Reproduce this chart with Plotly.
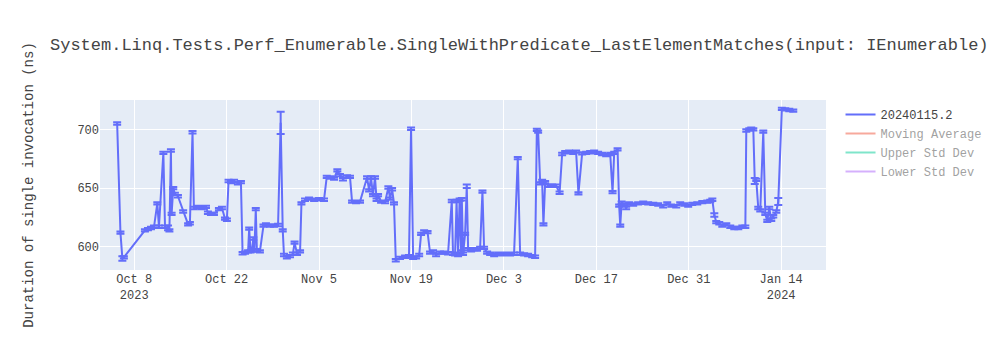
import pandas as pd
import plotly.graph_objects as go

# Benchmark run timestamps
dates = [
    "2023-10-05 10:00", "2023-10-05 22:00", "2023-10-06 05:00", "2023-10-06 10:30",
    "2023-10-09 15:00", "2023-10-10 02:00", "2023-10-10 13:00", "2023-10-11 00:00",
    "2023-10-11 12:00", "2023-10-11 18:00", "2023-10-12 10:00", "2023-10-12 16:00",
    "2023-10-13 03:00", "2023-10-13 08:00", "2023-10-13 13:30", "2023-10-13 16:00",
    "2023-10-13 22:00", "2023-10-14 04:00", "2023-10-14 15:00", "2023-10-15 10:00",
    "2023-10-16 04:00", "2023-10-16 10:30", "2023-10-16 20:00", "2023-10-17 01:00",
    "2023-10-17 16:00", "2023-10-18 06:00", "2023-10-18 21:00", "2023-10-19 04:00",
    "2023-10-19 15:00", "2023-10-20 02:00", "2023-10-20 20:00", "2023-10-21 07:00",
    "2023-10-21 18:00", "2023-10-22 01:00", "2023-10-22 07:00", "2023-10-22 16:00",
    "2023-10-23 03:00", "2023-10-23 17:00", "2023-10-24 04:00", "2023-10-24 10:00",
    "2023-10-24 19:00", "2023-10-25 06:00", "2023-10-25 10:00", "2023-10-25 15:00",
    "2023-10-25 20:00", "2023-10-26 01:00", "2023-10-26 05:00", "2023-10-26 10:00",
    "2023-10-26 14:00", "2023-10-27 01:00", "2023-10-27 14:00", "2023-10-27 23:00",
    "2023-10-28 14:00", "2023-10-29 04:00", "2023-10-29 19:00", "2023-10-30 04:30",
    "2023-10-30 12:00", "2023-10-30 16:30", "2023-10-31 03:00", "2023-10-31 14:30",
    "2023-11-01 01:00", "2023-11-01 07:00", "2023-11-01 16:00", "2023-11-02 03:00",
    "2023-11-02 08:00", "2023-11-02 21:00", "2023-11-03 11:30", "2023-11-04 06:00",
    "2023-11-05 00:00", "2023-11-05 18:00", "2023-11-06 04:00", "2023-11-06 16:00",
    "2023-11-07 06:30", "2023-11-07 18:30", "2023-11-08 04:00", "2023-11-08 15:00",
    "2023-11-09 06:00", "2023-11-09 16:30", "2023-11-10 00:00", "2023-11-10 14:30",
    "2023-11-11 05:00", "2023-11-12 06:30", "2023-11-12 14:00", "2023-11-12 21:00",
    "2023-11-13 04:00", "2023-11-13 11:30", "2023-11-13 17:00", "2023-11-13 22:30",
    "2023-11-14 09:30", "2023-11-15 00:00", "2023-11-15 12:00", "2023-11-15 18:00",
    "2023-11-16 01:30", "2023-11-16 08:30", "2023-11-16 15:00", "2023-11-17 06:30",
    "2023-11-18 00:45", "2023-11-18 15:00", "2023-11-18 22:30", "2023-11-19 06:00",
    "2023-11-19 17:00", "2023-11-20 04:00", "2023-11-20 11:00", "2023-11-20 22:00",
    "2023-11-21 10:30", "2023-11-21 19:30", "2023-11-22 06:30", "2023-11-22 17:30",
    "2023-11-23 08:00", "2023-11-23 22:30", "2023-11-24 13:00", "2023-11-25 02:30",
    "2023-11-25 07:00", "2023-11-25 14:30", "2023-11-25 20:00", "2023-11-26 01:30",
    "2023-11-26 07:00", "2023-11-26 12:30", "2023-11-26 15:00", "2023-11-26 19:30",
    "2023-11-27 03:00", "2023-11-27 09:00", "2023-11-27 14:00", "2023-11-28 00:45",
    "2023-11-28 12:00", "2023-11-28 22:30", "2023-11-29 09:30", "2023-11-29 18:00",
    "2023-11-30 00:00", "2023-11-30 11:00", "2023-11-30 22:00", "2023-12-01 12:30",
    "2023-12-02 03:00", "2023-12-02 17:30", "2023-12-03 08:00", "2023-12-03 22:30",
    "2023-12-04 13:00", "2023-12-05 02:30", "2023-12-05 11:00", "2023-12-06 01:30",
    "2023-12-06 16:00", "2023-12-07 06:45", "2023-12-07 17:30", "2023-12-07 23:45",
    "2023-12-08 04:30", "2023-12-08 12:00", "2023-12-08 19:00", "2023-12-08 23:45",
    "2023-12-09 06:00", "2023-12-09 17:00", "2023-12-10 07:30", "2023-12-10 22:00",
    "2023-12-11 10:30", "2023-12-11 19:45", "2023-12-12 06:45", "2023-12-12 21:00",
    "2023-12-13 11:45", "2023-12-13 22:30", "2023-12-14 07:00", "2023-12-14 20:30",
    "2023-12-15 11:00", "2023-12-16 01:30", "2023-12-16 16:00", "2023-12-17 06:30",
    "2023-12-17 21:00", "2023-12-18 11:45", "2023-12-19 02:30", "2023-12-19 11:00",
    "2023-12-19 17:00", "2023-12-20 05:15", "2023-12-20 11:00", "2023-12-20 15:00",
    "2023-12-20 20:00", "2023-12-21 05:15", "2023-12-21 12:30", "2023-12-21 23:30",
    "2023-12-22 14:00", "2023-12-23 08:00", "2023-12-24 02:30", "2023-12-24 20:30",
    "2023-12-25 15:00", "2023-12-26 09:00", "2023-12-27 03:00", "2023-12-27 17:45",
    "2023-12-28 08:30", "2023-12-29 02:30", "2023-12-29 17:00", "2023-12-30 07:45",
    "2023-12-30 22:00", "2023-12-31 12:45", "2024-01-01 07:00", "2024-01-02 01:15",
    "2024-01-02 19:30", "2024-01-03 06:15", "2024-01-03 13:45", "2024-01-03 21:00",
    "2024-01-04 04:00", "2024-01-04 15:00", "2024-01-05 02:00", "2024-01-05 16:30",
    "2024-01-06 07:00", "2024-01-06 21:30", "2024-01-07 12:15", "2024-01-08 02:45",
    "2024-01-08 13:45", "2024-01-08 17:15", "2024-01-09 04:00", "2024-01-09 11:15",
    "2024-01-09 18:45", "2024-01-10 00:00", "2024-01-10 05:30", "2024-01-10 12:45",
    "2024-01-10 20:00", "2024-01-11 07:00", "2024-01-11 14:15", "2024-01-11 21:30",
    "2024-01-12 04:45", "2024-01-12 12:00", "2024-01-12 19:15", "2024-01-13 06:15",
    "2024-01-13 13:30", "2024-01-14 02:30", "2024-01-14 15:00", "2024-01-15 05:30",
    "2024-01-15 20:00",
]

# Mean duration per run (ns)
durations = [
    705, 612, 590, 591,
    614, 615, 616, 617,
    637, 617, 680, 617,
    616, 614, 682, 628,
    650, 645, 643, 630,
    619, 620, 697.5, 633,
    634, 633, 634, 629,
    628, 628, 632, 633,
    624, 623, 656, 655,
    656, 654, 655, 594.5,
    595, 596, 615.5, 596,
    597, 607, 597, 632,
    597, 596, 618, 619,
    618, 618, 618.5, 705.5,
    614, 593, 591, 592,
    594, 603.5, 594, 596,
    637, 640, 641, 640,
    640.5, 640, 659.5, 659,
    658, 665, 661, 657.5,
    660, 659.5, 638.5, 638,
    638.5, 659, 648, 659,
    644, 659, 640, 644,
    638.5, 638, 650.5, 641,
    649, 637, 588.5, 590.5,
    591.5, 592, 700.5, 590.5,
    591, 593, 611, 613,
    612.5, 595, 596, 593,
    595, 595, 594.5, 639,
    594, 593.5, 639, 593,
    640, 596, 640.5, 594,
    611, 651.5, 598, 597,
    598, 597.5, 599, 647,
    599, 595, 594, 593,
    594, 593.5, 594, 593.5,
    594, 675.5, 594, 593.5,
    593, 592, 591.5, 699.5,
    698, 654, 656, 619,
    655, 652, 652, 652,
    646, 679, 680.5, 681,
    680, 681, 645.5, 679.5,
    680, 680.5, 681, 680,
    679, 678, 679, 646.5,
    680, 683, 635, 618,
    637.5, 636, 633, 637,
    636, 637, 637.5, 637,
    636.5, 636, 634.5, 637,
    635, 634.5, 637, 636,
    635, 636.5, 637, 638,
    638.5, 639, 640, 627,
    621, 620, 618, 619,
    617, 616, 616, 617,
    617, 699, 700, 700.5,
    700, 656, 657, 633,
    631, 698, 628, 622,
    633, 623, 626, 630,
    638.5, 717.5, 717, 716.5,
    716,
]

# Half-width of the error bar for each run (ns)
errors = [1] * len(durations)
errors[2] = 2
errors[12] = 2
errors[55] = 9.5
errors[121] = 1.5
errors[195] = 1.5
errors[209] = 2.5
errors[220] = 3

title = "System.Linq.Tests.Perf_Enumerable.SingleWithPredicate_LastElementMatches(input: IEnumerable)"
series_name = "20240115.2"

series = pd.Series(durations)
window = 10
moving_avg = series.rolling(window, min_periods=1).mean()
moving_std = series.rolling(window, min_periods=1).std().fillna(0)
upper = moving_avg + 2 * moving_std
lower = moving_avg - 2 * moving_std

fig = go.Figure()
fig.add_trace(go.Scatter(
    x=dates, y=durations, mode="lines", name=series_name,
    line=dict(color="#636efa", width=2),
    error_y=dict(type="data", array=errors, visible=True, color="#636efa", thickness=2, width=4),
))
fig.add_trace(go.Scatter(x=dates, y=moving_avg, mode="lines", name="Moving Average",
                         line=dict(color="#EF553B"), visible="legendonly"))
fig.add_trace(go.Scatter(x=dates, y=upper, mode="lines", name="Upper Std Dev",
                         line=dict(color="#00cc96"), visible="legendonly"))
fig.add_trace(go.Scatter(x=dates, y=lower, mode="lines", name="Lower Std Dev",
                         line=dict(color="#ab63fa"), visible="legendonly"))

fig.update_layout(
    template="plotly",
    width=1000, height=350,
    margin=dict(l=100, r=174, t=100, b=80),
    font=dict(family="Courier New, Liberation Mono, monospace", color="#444"),
    title=dict(text=title),
    yaxis=dict(title=dict(text="Duration of single invocation (ns)", standoff=40),
               range=[580.2, 725]),
    xaxis=dict(range=["2023-10-02 19:40", "2024-01-20 19:00"]),
)

fig.write_html("out.html")
